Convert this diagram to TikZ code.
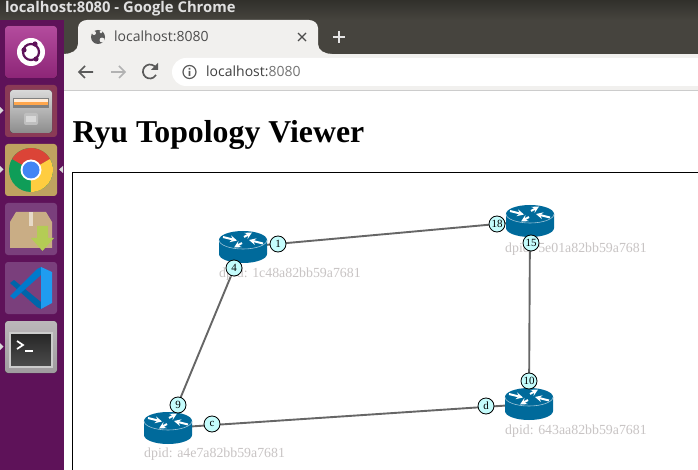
\documentclass[tikz,border=0pt]{standalone}
\usepackage{fontspec}
\setmainfont{Liberation Serif}
\newfontfamily\uifont{Open Sans}
\usepackage{xcolor}
\usetikzlibrary{calc,shapes}
\definecolor{routerblue}{HTML}{006A9B}
\definecolor{portfill}{HTML}{C4FCFC}
\definecolor{dpidgray}{HTML}{C8C4C4}
\definecolor{linkgray}{HTML}{666666}
\definecolor{dockpurple}{HTML}{5E1259}
\definecolor{barsdark}{HTML}{46443E}
\definecolor{toolgray}{HTML}{F1F0EE}
\definecolor{iconink}{HTML}{5A5A5A}
\definecolor{tileubuntu}{HTML}{A62C8C}
\definecolor{tilefiles}{HTML}{8A3A56}
\definecolor{tilechrome}{HTML}{BFA260}
\definecolor{tileplain}{HTML}{7A3F7C}
\definecolor{tileterm}{HTML}{BBB7BA}
\definecolor{boxtan}{HTML}{C9AD85}
\definecolor{boxgreen}{HTML}{B4CC55}
\definecolor{chromegreen}{HTML}{0F9D58}
\definecolor{chromered}{HTML}{DB4437}
\definecolor{chromeyellow}{HTML}{FFCD40}
\definecolor{chromeblue}{HTML}{4285F4}
\definecolor{codedark}{HTML}{0065A9}
\definecolor{codemid}{HTML}{007ACC}
\definecolor{codelight}{HTML}{1F9CF0}
\tikzset{
	router/.pic={
		\fill[routerblue] (-24,-7) -- (-24,7) arc[start angle=180,end angle=0,x radius=24,y radius=9] -- (24,-7) -- cycle;
		\fill[routerblue] (0,-7) ellipse[x radius=24,y radius=9];
		\draw[white!60!routerblue,line width=.6] (-24,-7) arc[start angle=180,end angle=0,x radius=24,y radius=9];
		\draw[white,line width=2,-stealth] (-20,-10) -- (-6,-6.5);
		\draw[white,line width=2,-stealth] (20,-3.5) -- (6,-7);
		\draw[white,line width=2,-stealth] (1,-10) -- (9,-14.5);
		\draw[white,line width=2,-stealth] (-1,-4) -- (-9,.5);
	},
	port/.style={draw=black,fill=portfill,circle,inner sep=0pt,minimum size=16pt,line width=.8pt,font=\fontsize{11}{12}\selectfont},
	dpid/.style={text=dpidgray,anchor=base west,inner sep=0pt,font=\fontsize{13.85}{16}\selectfont},
	link/.style={draw=linkgray,line width=1.9pt},
	launcher/.style={rounded corners=3pt},
	uitext/.style={inner sep=0pt,anchor=base west,font=\uifont\fontsize{14}{16}\selectfont},
	navarrow/.style={line width=1.7pt},
	pointer/.style={fill=white!85!black}
}
\begin{document}
\begin{tikzpicture}[x=1pt,y=-1pt]
	\useasboundingbox (0,0) rectangle (698,470);
	\fill[white] (0,0) rectangle (698,470);

	% window bars
	\fill[dockpurple] (0,20) rectangle (64,470);
	\fill[barsdark] (64,20) rectangle (698,54);
	\fill[top color=barsdark!70!black,bottom color=barsdark] (0,0) rectangle (698,20);
	\node[uitext,text=white!88!black,font=\uifont\bfseries\fontsize{14.8}{16}\selectfont] (wintitle) at (5,13) {localhost:8080 - Google Chrome};
	\fill[toolgray] (64,54) rectangle (698,90);
	\draw[black!20,line width=1pt] (64,91) -- (698,91);

	% tab
	\fill[toolgray] (64,54) to[out=0,in=270] (78,44) -- (78,28) to[out=90,in=180] (87,20) -- (309,20) to[out=0,in=90] (318,28) -- (318,44) to[out=270,in=180] (332,54) -- cycle;
	\fill[iconink] (98,37) circle (7);
	\fill[toolgray] (94,33) circle (2) (102,40) circle (2.4) (101,32) circle (1.5);
	\node[uitext,text=black!70] (tabtitle) at (114,42) {localhost:8080};
	\draw[black!70,line width=1.2pt] (298,33) -- (306,41) (306,33) -- (298,41);
	\draw[white!90!black,line width=1.5pt] (339,31) -- (339,43) (333,37) -- (345,37);

	% toolbar
	\draw[navarrow,iconink] (93,72) -- (79,72) (85,66) -- (79,72) -- (85,78);
	\draw[navarrow,black!30] (111,72) -- (125,72) (119,66) -- (125,72) -- (119,78);
	\draw[navarrow,iconink] (156,68) arc[start angle=-30,end angle=-330,radius=7];
	\fill[iconink] (158,63) -- (158,70) -- (151,70) -- cycle;
	\fill[white,rounded corners=14pt] (172,58) rectangle (720,86);
	\draw[iconink,line width=1.2pt] (189.5,72) circle (6.5);
	\fill[iconink] (188.7,71) rectangle (190.3,76) (188.7,68) rectangle (190.3,69.6);
	\node[uitext,text=black!75] (urltext) at (206,77) {localhost:\textcolor{black!55}{8080}};

	% launcher icons
	\fill[launcher,top color=tileubuntu!85!white,bottom color=tileubuntu!85!black] (5,26) rectangle (57,78);
	\fill[white] (31,52) circle (14);
	\draw[dockpurple,line width=2.2pt] (31,52) circle (8);
	\fill[dockpurple] (24,50) circle (2.6) (35,44) circle (2.6) (36,59) circle (2.6);
	\fill[launcher,fill=tilefiles] (5,85) rectangle (57,137);
	\fill[launcher,top color=white!85!black,bottom color=black!45] (10,90) rectangle (52,133);
	\fill[black!50] (13,98) rectangle (49,108);
	\fill[white!85!orange] (14,99) rectangle (48,102);
	\fill[orange!70!white] (14,102) rectangle (48,105);
	\fill[black!25,rounded corners=2pt] (24,113) rectangle (38,125);
	\fill[white!85!black] (26,116) rectangle (36,122);
	\fill[launcher,fill=tilechrome] (5,144) rectangle (57,196);
	\fill[chromegreen] (31,170) circle (22);
	\fill[chromered] (12,159) arc[start angle=210,end angle=330,radius=22] -- (31,170) -- cycle;
	\fill[chromeyellow] (31,170) -- (50,159) arc[start angle=-30,end angle=90,radius=22] -- cycle;
	\fill[white] (31,170) circle (10.5);
	\fill[chromeblue] (31,170) circle (8.5);
	\fill[launcher,fill=tileplain] (5,203) rectangle (57,255);
	\fill[boxtan] (10,222) -- (16,212) -- (46,212) -- (52,222) -- (52,248) -- (10,248) -- cycle;
	\fill[white!55!boxtan] (29,212) rectangle (33,226);
	\fill[boxgreen] (37,226) -- (48,226) -- (48,238) -- (54,238) -- (42.5,251) -- (31,238) -- (37,238) -- cycle;
	\fill[launcher,fill=tileplain] (5,262) rectangle (57,314);
	\fill[codedark] (10,283) -- (14,280) -- (41,302) -- (41,309) -- (37,307) -- cycle;
	\fill[codemid] (10,296) -- (14,299) -- (41,275) -- (41,267) -- (37,269) -- cycle;
	\fill[codelight] (41,267) -- (52,272) -- (52,303) -- (41,309) -- cycle;
	\fill[launcher,top color=tileterm,bottom color=tileterm!85!black] (5,321) rectangle (57,373);
	\fill[top color=black!85,bottom color=black!70,draw=white!80!black,line width=2pt] (10,333) rectangle (52,367);
	\draw[white,line width=1.7pt] (17,341) -- (23,345) -- (17,349);
	\draw[white,line width=1.7pt] (25,351) -- (33,351);
	\fill[pointer] (0,107) -- (3.5,110.5) -- (0,114) -- cycle;
	\fill[pointer] (0,166) -- (3.5,169.5) -- (0,173) -- cycle;
	\fill[pointer] (63,166) -- (59,169.5) -- (63,173) -- cycle;
	\fill[pointer] (0,343) -- (3.5,346.5) -- (0,350) -- cycle;

	% page
	\node[inner sep=0pt,anchor=base west,font=\bfseries\fontsize{31.8}{36}\selectfont] (heading) at (72.5,143) {Ryu Topology Viewer};
	\draw[black,line width=1pt] (72.5,470) -- (72.5,172.5) -- (698,172.5);

	% topology
	\coordinate (sw1) at (243,247);
	\coordinate (sw2) at (530,221);
	\coordinate (sw3) at (529,404);
	\coordinate (sw4) at (168,428);
	\draw[link] (sw1) -- (sw2);
	\draw[link] (sw2) -- (sw3);
	\draw[link] (sw3) -- (sw4);
	\draw[link] (sw4) -- (sw1);
	\pic at (sw1) {router};
	\pic at (sw2) {router};
	\pic at (sw3) {router};
	\pic at (sw4) {router};
	\node[dpid] (dpid1) at (219,277) {dpid: 1c48a82bb59a7681};
	\node[dpid] (dpid2) at (505,252) {dpid: 5e01a82bb59a7681};
	\node[dpid] (dpid3) at (505,434) {dpid: 643aa82bb59a7681};
	\node[dpid] (dpid4) at (144,457) {dpid: a4e7a82bb59a7681};
	\node[port] (p1) at (278,244) {1};
	\node[port] (p4) at (234,268) {4};
	\node[port] (p18) at (497,224) {18};
	\node[port] (p15) at (531,243) {15};
	\node[port] (p10) at (529,381) {10};
	\node[port] (pd) at (486,406) {d};
	\node[port] (p9) at (178,405) {9};
	\node[port] (pc) at (212,424) {c};
\end{tikzpicture}
\end{document}
